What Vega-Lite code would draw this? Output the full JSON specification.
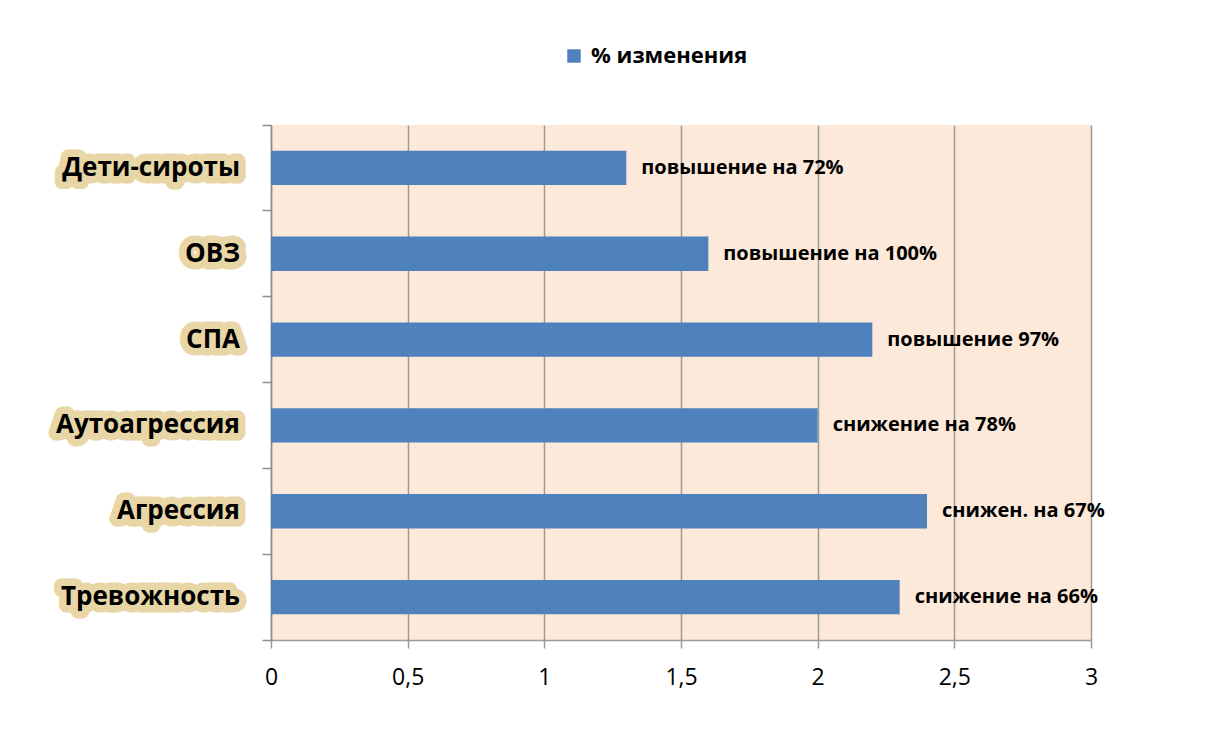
{
  "$schema": "https://vega.github.io/schema/vega-lite/v6.json",
  "width": 820,
  "height": 515,
  "autosize": "none",
  "padding": {"left": 271, "top": 125, "right": 121, "bottom": 101},
  "background": "white",
  "config": {"view": {"fill": "#FDE9D9", "stroke": null}, "font": "Open Sans"},
  "data": {"values": [
    {"category": "Дети-сироты", "value": 1.3, "label": "повышение на 72%", "series": "% изменения"},
    {"category": "ОВЗ", "value": 1.6, "label": "повышение на 100%", "series": "% изменения"},
    {"category": "СПА", "value": 2.2, "label": "повышение 97%", "series": "% изменения"},
    {"category": "Аутоагрессия", "value": 2.0, "label": "снижение на 78%", "series": "% изменения"},
    {"category": "Агрессия", "value": 2.4, "label": "снижен. на 67%", "series": "% изменения"},
    {"category": "Тревожность", "value": 2.3, "label": "снижение на 66%", "series": "% изменения"}
  ]},
  "encoding": {
    "y": {
      "field": "category", "type": "nominal", "sort": null,
      "scale": {"paddingInner": 0, "paddingOuter": 0},
      "axis": {"title": null, "labels": false, "bandPosition": 1, "tickExtra": true, "tickSize": 9, "tickColor": "#8C8C8C", "tickWidth": 1.5, "domainColor": "#8C8C8C", "domainWidth": 1.5, "grid": false}
    }
  },
  "layer": [
    {
      "mark": {"type": "bar", "height": {"band": 0.4}},
      "encoding": {
        "x": {
          "field": "value", "type": "quantitative",
          "scale": {"domain": [0, 3], "nice": false, "zero": true},
          "axis": {"title": null, "values": [0, 0.5, 1, 1.5, 2, 2.5, 3], "grid": true, "gridColor": "#9A9A9A", "gridWidth": 1.5, "domainColor": "#9A9A9A", "domainWidth": 1.5, "tickColor": "#9A9A9A", "tickWidth": 1.5, "tickSize": 8, "labelFontSize": 23, "labelColor": "black", "labelPadding": 18, "labelFlush": false, "labelExpr": "replace(format(datum.value, '~g'), '.', ',')"}
        },
        "color": {
          "field": "series", "type": "nominal",
          "scale": {"range": ["#4F81BD"]},
          "legend": {"orient": "none", "legendX": 292, "legendY": -80, "title": null, "symbolType": "square", "symbolSize": 180, "symbolStrokeWidth": 0, "labelFontSize": 22, "labelFontWeight": "bold", "labelColor": "black", "labelOffset": 6}
        }
      }
    },
    {
      "mark": {"type": "text", "align": "left", "baseline": "middle", "dx": 15, "fontSize": 20, "fontWeight": "bold", "color": "black"},
      "encoding": {
        "x": {"field": "value", "type": "quantitative"},
        "text": {"field": "label"}
      }
    },
    {
      "mark": {"type": "text", "align": "right", "baseline": "middle", "dx": -31, "fontSize": 26, "fontWeight": "bold", "fill": "#E8D6A6", "stroke": "#E8D6A6", "strokeWidth": 15, "strokeJoin": "round"},
      "encoding": {
        "x": {"datum": 0, "type": "quantitative"},
        "text": {"field": "category"}
      }
    },
    {
      "mark": {"type": "text", "align": "right", "baseline": "middle", "dx": -31, "fontSize": 26, "fontWeight": "bold", "color": "black"},
      "encoding": {
        "x": {"datum": 0, "type": "quantitative"},
        "text": {"field": "category"}
      }
    }
  ]
}
